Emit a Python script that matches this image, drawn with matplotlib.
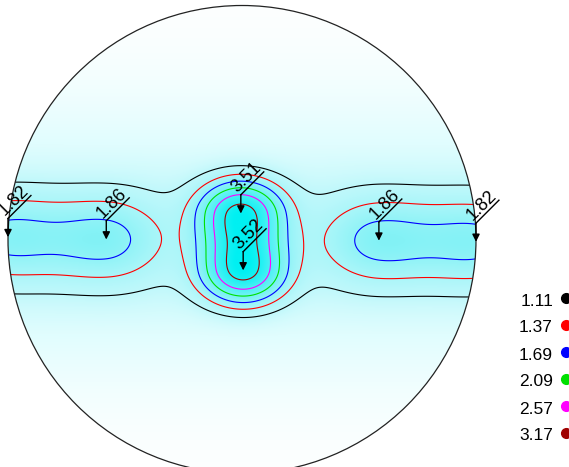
import numpy as np
import matplotlib
matplotlib.use("Agg")
import matplotlib.pyplot as plt
from matplotlib.patches import Circle
from matplotlib.colors import LinearSegmentedColormap, Normalize

plt.rcParams["font.family"] = ["Liberation Sans", "DejaVu Sans"]

# contour levels and their line colours
levels = [1.11, 1.37, 1.69, 2.09, 2.57, 3.17]
level_colors = ["#000000", "#ff0000", "#0000ff", "#00e000", "#ff00ff", "#a00000"]

# labelled maxima of the pole figure (unit-circle projection coordinates)
peak_u = [-1.00, -0.58, -0.005, 0.005, 0.585, 1.00]
peak_v = [0.01, 0.0, 0.111, -0.132, -0.005, -0.01]
peak_val = [1.82, 1.86, 3.51, 3.52, 1.86, 1.82]

# kernel spreads of each maximum, on each side (-u, +u, -v, +v)
spread_u_neg = [0.18, 0.18, 0.115, 0.115, 0.16, 0.18]
spread_u_pos = [0.18, 0.16, 0.115, 0.115, 0.18, 0.18]
spread_v_neg = [0.122, 0.122, 0.108, 0.09, 0.122, 0.122]
spread_v_pos = [0.122, 0.122, 0.09, 0.108, 0.122, 0.122]

# broad equatorial background band
band_floor = 0.5
band_height = 0.6
band_width = 0.4


def band(u, v):
    return band_floor + band_height * np.exp(-v ** 2 / (2 * band_width ** 2)) + 0 * u


def kernel(j, u, v):
    du = u - peak_u[j]
    dv = v - peak_v[j]
    sx = np.where(du < 0, spread_u_neg[j], spread_u_pos[j])
    sy = np.where(dv < 0, spread_v_neg[j], spread_v_pos[j])
    return np.exp(-du ** 2 / (2 * sx ** 2) - dv ** 2 / (2 * sy ** 2))


# amplitudes chosen so the density at each maximum equals its label
n = len(peak_val)
pu = np.array(peak_u)
pv = np.array(peak_v)
M = np.array([[kernel(j, pu[i], pv[i]) for j in range(n)] for i in range(n)], dtype=float)
rhs = np.array(peak_val) - band(pu, pv)
amps = np.linalg.solve(M, rhs)

g = np.linspace(-1.02, 1.02, 720)
U, V = np.meshgrid(g, g)
F = band(U, V)
for j in range(n):
    F = F + amps[j] * kernel(j, U, V)

fig = plt.figure(figsize=(5.69, 4.67), dpi=100)
ax = fig.add_axes([0, 0, 1, 1])
R_PX = 234.0
ax.set_xlim(-242 / R_PX, (569 - 242) / R_PX)
ax.set_ylim(-(467 - 239.5) / R_PX, 239.5 / R_PX)
ax.axis("off")

clip = Circle((0, 0), 1.0, transform=ax.transData)
cmap = LinearSegmentedColormap.from_list(
    "pf", [(0.0, "#ffffff"), (0.12, "#e0fdfe"), (0.2, "#c0f8fb"),
           (0.45, "#84f2f6"), (1.0, "#00f0f2")])
im = ax.imshow(F, extent=(g[0], g[-1], g[0], g[-1]), origin="lower", cmap=cmap,
               norm=Normalize(vmin=0.5, vmax=3.5), interpolation="bilinear", zorder=1)
im.set_clip_path(clip)

cs = ax.contour(U, V, F, levels=levels, colors=level_colors, linewidths=0.8, zorder=2)
cs.set_clip_path(clip)

ax.add_patch(Circle((0, 0), 1.0, fill=False, ec="#222222", lw=0.9, zorder=3))

# leaders: arrow down to each maximum, then a slanted line carrying the value
rise = 0.08
slant = 0.098
for u0, v0, val in zip(peak_u, peak_v, peak_val):
    top = (u0, v0 + rise)
    end = (u0 + slant, v0 + rise + slant)
    ax.annotate("", xy=(u0, v0), xytext=top,
                arrowprops=dict(arrowstyle="-|>", color="black", lw=1.0,
                                mutation_scale=11, shrinkA=0, shrinkB=0), zorder=4)
    ax.plot([top[0], end[0]], [top[1], end[1]], color="black", lw=1.0, zorder=4)
    mid = ((top[0] + end[0]) / 2, (top[1] + end[1]) / 2)
    ax.text(mid[0], mid[1], f"{val:.2f}", rotation=45, rotation_mode="anchor",
            ha="center", va="bottom", fontsize=13, zorder=5)

# level key
for i, (lv, c) in enumerate(zip(levels, level_colors)):
    y = 1 - (301 + i * 27.0) / 467
    ax.text(553 / 569, y, f"{lv:.2f}", transform=ax.transAxes, ha="right",
            va="center", fontsize=12.5)
    ax.plot([565.5 / 569], [y + 3 / 467], "o", color=c, ms=7,
            transform=ax.transAxes, clip_on=False)

fig.savefig("out.png", dpi=100)
